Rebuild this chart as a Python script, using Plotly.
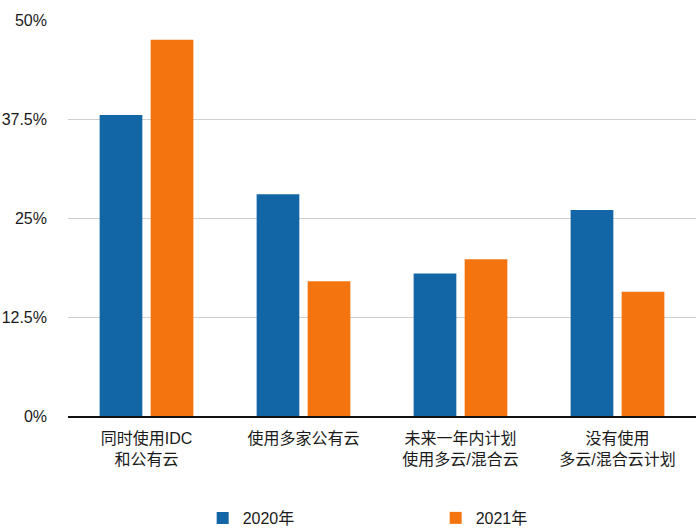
import plotly.graph_objects as go

categories = ["同时使用IDC<br>和公有云", "使用多家公有云", "未来一年内计划<br>使用多云/混合云", "没有使用<br>多云/混合云计划"]
series_names = ["2020年", "2021年"]
values_2020 = [38.0, 28.0, 18.0, 26.0]
values_2021 = [47.5, 17.0, 19.8, 15.7]
tick_vals = [0, 12.5, 25, 37.5, 50]
tick_text = ["0%", "12.5%", "25%", "37.5%", "50%"]

colors = ["#1366a6", "#f4750f"]
font_family = "Liberation Sans, Arial, Noto Sans CJK SC, sans-serif"

fig = go.Figure()
for name, vals, col in zip(series_names, [values_2020, values_2021], colors):
    fig.add_trace(go.Bar(
        x=categories, y=vals, name=name,
        marker=dict(color=col, line=dict(width=0)),
    ))

fig.update_layout(
    width=696, height=531,
    margin=dict(l=68, r=0, t=20, b=115),
    paper_bgcolor="white", plot_bgcolor="white",
    barmode="group", bargap=0.35, bargroupgap=0.163,
    font=dict(family=font_family, size=16, color="#1a1a1a"),
    showlegend=True,
    legend=dict(
        orientation="h", xref="container", yref="container",
        x=0.2912, xanchor="left", y=0.0245, yanchor="middle",
        entrywidth=188, entrywidthmode="pixels",
        font=dict(size=16, color="#1a1a1a"),
        traceorder="normal",
    ),
    xaxis=dict(
        showgrid=False, showline=True, linecolor="#111111", linewidth=2,
        ticks="", tickfont=dict(size=16), range=[-0.5, 3.5],
        ticklabelstandoff=7, automargin=False,
    ),
    yaxis=dict(
        range=[0, 50], tickvals=tick_vals, ticktext=tick_text,
        showgrid=True, gridcolor="#cfcfcf", gridwidth=1,
        zeroline=False, showline=False, ticks="",
        tickfont=dict(size=16), ticklabelstandoff=20, automargin=False,
    ),
)

fig.write_html(
    "out.html",
    config={"displayModeBar": False},
    post_script="document.body.style.margin='0';",
)
